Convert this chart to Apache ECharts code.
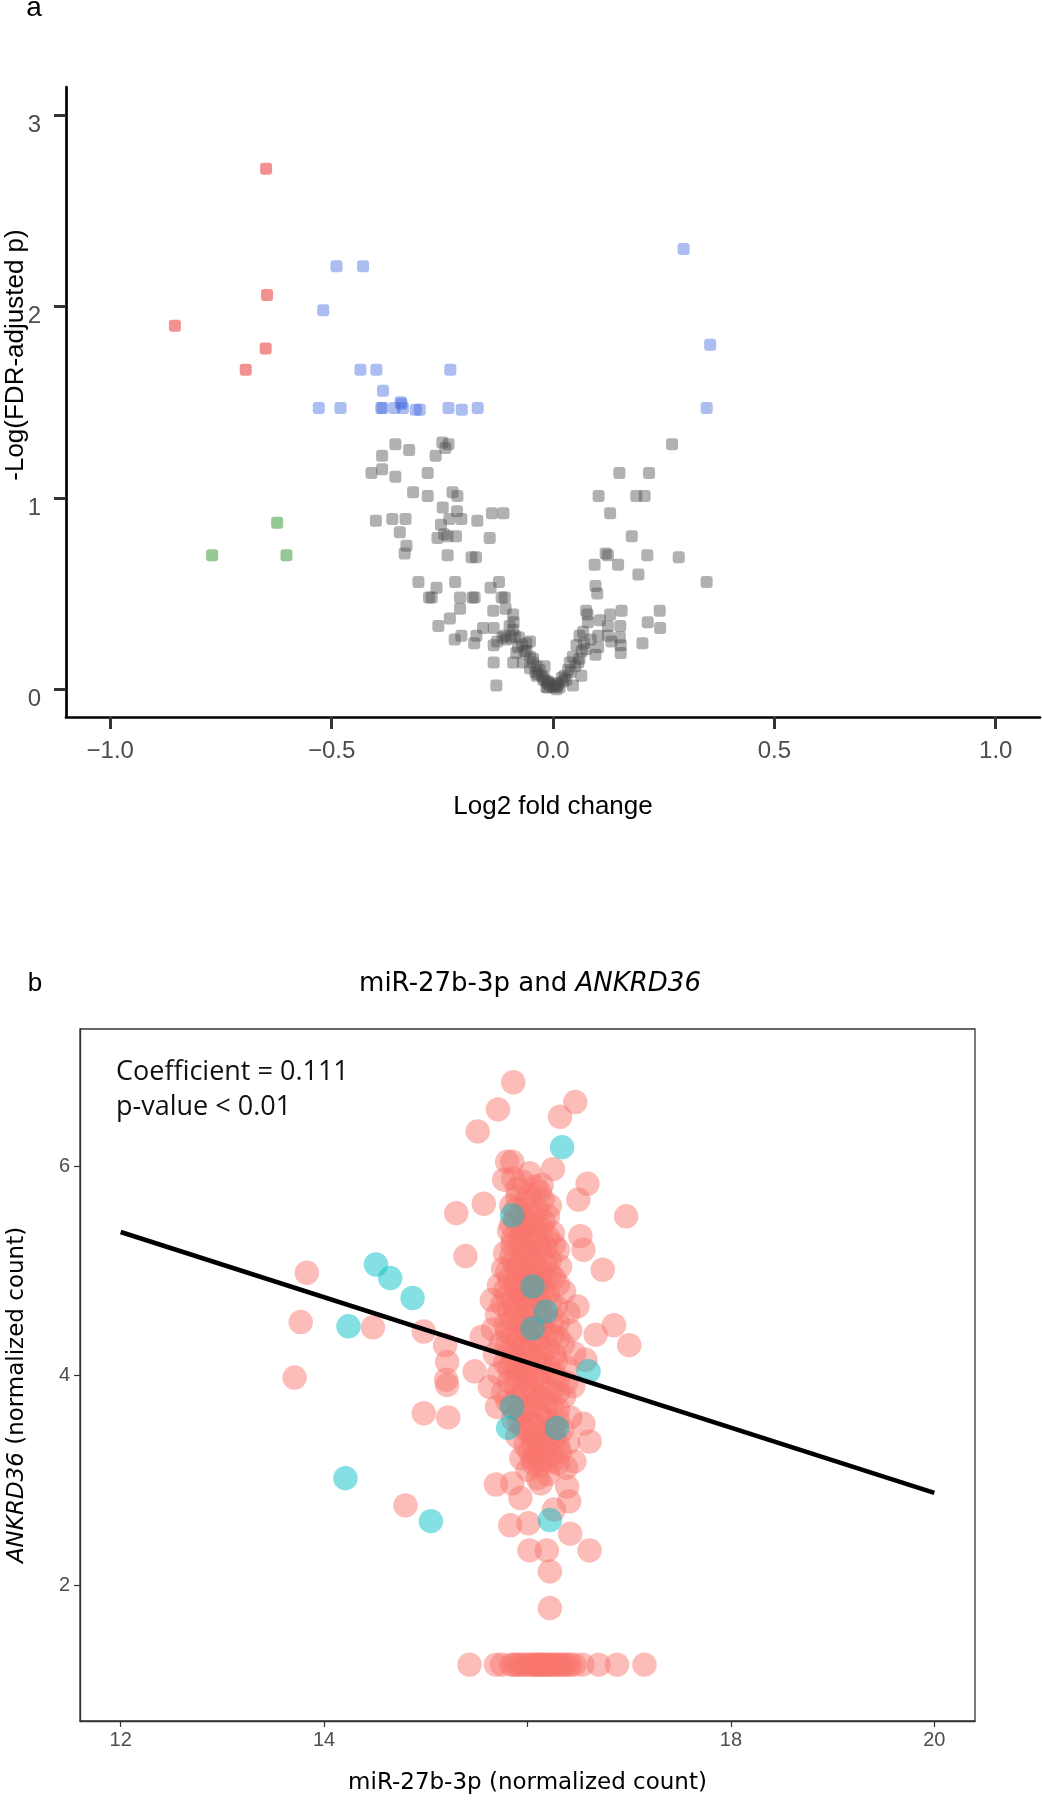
<!DOCTYPE html>
<html>
<head>
<meta charset="utf-8">
<script src="https://cdn.jsdelivr.net/npm/echarts@6/dist/echarts.min.js"></script>
<style>
html,body{margin:0;padding:0;background:#fff;}
#chart{width:1042px;height:1800px;}
</style>
</head>
<body>
<div id="chart"></div>
<script>
// ---------- Panel a: volcano plot (log2 fold change, -log FDR p) ----------
const volXTicks = [-1, -0.5, 0, 0.5, 1];
const volYTicks = [0, 1, 2, 3];

const redPoints = [[-0.648,2.72],[-0.646,2.06],[-0.854,1.90],[-0.649,1.78],[-0.694,1.67]];
const greenPoints = [[-0.623,0.87],[-0.770,0.70],[-0.602,0.70]];
const bluePoints = [
  [-0.489,2.21],[-0.429,2.21],[-0.519,1.98],[-0.435,1.67],[-0.399,1.67],[-0.232,1.67],
  [-0.384,1.56],[-0.529,1.47],[-0.480,1.47],[-0.388,1.47],[-0.385,1.47],[-0.358,1.47],
  [-0.342,1.49],[-0.344,1.50],[-0.339,1.47],[-0.310,1.46],[-0.301,1.46],[-0.236,1.47],
  [-0.206,1.46],[-0.170,1.47],[0.295,2.30],[0.355,1.80],[0.347,1.47]
];
const grayPoints = [
  [-0.356,1.28],[-0.325,1.25],[-0.250,1.29],[-0.236,1.28],[-0.243,1.26],[-0.265,1.22],[-0.386,1.22],
  [-0.386,1.15],[-0.410,1.13],[-0.356,1.11],[-0.283,1.13],[-0.316,1.03],[-0.283,1.01],[-0.227,1.03],
  [-0.216,1.01],[-0.249,0.95],[-0.217,0.93],[-0.400,0.88],[-0.363,0.89],[-0.333,0.89],[-0.234,0.89],
  [-0.207,0.89],[-0.171,0.88],[-0.138,0.92],[-0.112,0.92],[-0.253,0.86],[-0.346,0.82],[-0.261,0.79],
  [-0.246,0.81],[-0.238,0.80],[-0.219,0.80],[-0.143,0.79],[-0.331,0.75],[-0.335,0.71],[-0.238,0.70],
  [-0.184,0.69],[-0.174,0.69],[-0.304,0.56],[-0.263,0.53],[-0.221,0.56],[-0.141,0.53],[-0.122,0.56],
  [-0.280,0.48],[-0.274,0.48],[-0.210,0.48],[-0.182,0.48],[-0.177,0.48],[-0.116,0.48],[-0.109,0.48],
  [-0.210,0.42],[-0.135,0.41],[-0.107,0.42],[-0.233,0.37],[-0.090,0.39],[-0.089,0.35],[-0.259,0.33],
  [-0.158,0.32],[-0.134,0.32],[-0.098,0.33],[-0.222,0.26],[-0.207,0.28],[-0.173,0.28],[-0.178,0.24],
  [-0.134,0.23],[-0.126,0.25],[-0.114,0.27],[-0.109,0.28],[-0.086,0.28],[-0.077,0.27],[-0.060,0.24],
  [-0.052,0.25],[-0.134,0.14],[-0.090,0.14],[-0.083,0.19],[-0.068,0.14],[-0.052,0.17],[-0.037,0.12],
  [-0.030,0.10],[-0.128,0.02],[-0.037,0.07],[-0.022,0.05],[-0.007,0.02],[0.000,0.01],[0.008,0.00],
  [-0.079,0.22],[-0.064,0.20],[-0.045,0.14],[-0.034,0.08],[-0.015,0.04],[-0.052,0.11],[-0.090,0.31],
  [-0.105,0.26],[-0.012,0.01],[0.004,0.03],[-0.020,0.06],
  [-0.060,0.20],[-0.045,0.16],[-0.040,0.09],[-0.025,0.07],[-0.010,0.03],[0.010,0.02],[0.030,0.05],
  [0.040,0.09],[0.050,0.12],[0.060,0.16],[0.065,0.20],[0.070,0.24],[0.085,0.26],[-0.070,0.23],
  [-0.095,0.27],[0.020,0.06],[-0.015,0.01],[0.005,0.015],
  [0.269,1.28],[0.150,1.13],[0.217,1.13],[0.103,1.01],[0.188,1.01],[0.207,1.01],[0.129,0.92],
  [0.178,0.80],[0.119,0.71],[0.124,0.70],[0.094,0.65],[0.147,0.65],[0.213,0.70],[0.284,0.69],
  [0.193,0.60],[0.347,0.56],[0.096,0.54],[0.100,0.50],[0.075,0.41],[0.078,0.39],[0.129,0.39],
  [0.155,0.41],[0.241,0.41],[0.106,0.36],[0.079,0.35],[0.124,0.33],[0.152,0.33],[0.214,0.35],
  [0.242,0.32],[0.102,0.28],[0.124,0.28],[0.151,0.27],[0.153,0.23],[0.202,0.24],[0.153,0.19],
  [0.096,0.18],[0.060,0.28],[0.068,0.30],[0.053,0.23],[0.075,0.21],[0.102,0.22],[0.132,0.25],
  [0.045,0.17],[0.057,0.14],[0.038,0.14],[0.064,0.07],[0.034,0.10],[0.026,0.07],[0.045,0.02],
  [0.011,0.03],[0.015,0.01],[-0.011,0.04],[-0.019,0.12],[0.023,0.04]
];

// ---------- Panel b: miR-27b-3p vs ANKRD36 ----------
const corXTicks = [12, 14, 16, 18, 20];
const corXLabels = [12, 14, 18, 20];
const corYTicks = [2, 4, 6];
const fitLine = [[12, 5.37], [20, 2.88]];

const cyanPoints = [
  [16.34,6.18],[15.85,5.53],[14.51,5.06],[14.65,4.93],[14.87,4.74],[14.24,4.47],[16.05,4.85],
  [16.18,4.61],[16.05,4.45],[16.60,4.04],[15.81,3.50],[16.29,3.50],[14.21,3.02],[15.05,2.61],
  [16.22,2.62],[15.85,3.70]
];
const salmonPoints = [
  // scattered
  [15.86,6.80],[15.71,6.54],[16.47,6.61],[16.32,6.47],[15.51,6.33],[15.80,6.04],[15.85,6.04],
  [16.25,5.97],[16.02,5.93],[15.77,5.87],[16.59,5.83],[16.14,5.82],[16.50,5.68],[15.57,5.64],
  [15.30,5.55],[16.97,5.52],[16.52,5.33],[16.55,5.20],[15.39,5.14],[16.74,5.01],[13.83,4.98],
  [15.65,4.72],[16.49,4.66],[13.77,4.51],[14.48,4.46],[14.98,4.42],[16.85,4.48],[16.67,4.39],
  [15.55,4.37],[15.19,4.29],[17.00,4.29],[16.57,4.15],[15.21,4.13],[15.48,4.04],[13.71,3.98],
  [15.20,3.96],[15.21,3.91],[15.63,3.89],[14.98,3.64],[15.22,3.60],[15.70,3.70],[16.55,3.54],
  [16.61,3.37],[16.46,3.18],[16.05,3.21],[14.80,2.76],[15.69,2.96],[15.85,2.97],[15.93,2.83],
  [16.13,2.97],[16.39,2.94],[16.41,2.80],[15.83,2.57],[16.01,2.59],[16.26,2.72],[16.42,2.49],
  [16.02,2.33],[16.19,2.33],[16.61,2.33],[16.22,2.13],[16.22,1.78],
  // bottom row
  [15.43,1.24],[15.69,1.24],[15.75,1.24],[15.87,1.24],[15.93,1.24],[15.96,1.24],[16.00,1.24],
  [16.06,1.24],[16.10,1.24],[16.14,1.24],[16.18,1.24],[16.23,1.24],[16.28,1.24],[16.31,1.24],
  [16.36,1.24],[16.39,1.24],[16.46,1.24],[16.54,1.24],[16.70,1.24],[16.88,1.24],[17.15,1.24],
  [15.90,1.24],[16.03,1.24],[16.08,1.24],[16.12,1.24],[16.16,1.24],[16.20,1.24],[16.25,1.24],
  [16.33,1.24],[16.42,1.24],[15.84,1.24],
  // dense core
  [15.86,5.88],[15.95,5.85],[16.08,5.80],[16.02,5.72],[15.90,5.70],[16.15,5.68],[15.84,5.62],
  [16.00,5.60],[16.10,5.58],[15.93,5.55],[16.20,5.52],[15.88,5.48],[16.05,5.45],[15.97,5.42],
  [16.14,5.40],[15.82,5.38],[16.25,5.36],[16.02,5.33],[15.92,5.30],[16.10,5.28],[15.85,5.25],
  [16.18,5.22],[16.00,5.20],[16.30,5.20],[15.78,5.17],
  [15.95,5.15],[16.08,5.12],[16.22,5.10],[15.86,5.08],[16.00,5.05],[16.32,5.04],[15.76,5.02],
  [16.13,5.00],[15.92,4.98],[16.04,4.95],[16.26,4.93],[15.82,4.92],[15.98,4.90],[16.16,4.88],
  [15.72,4.86],[16.08,4.84],[15.90,4.82],[16.36,4.80],[16.20,4.78],[15.80,4.76],[16.02,4.75],
  [15.95,4.72],[16.12,4.70],[15.75,4.68],[16.28,4.66],[15.88,4.64],[16.06,4.62],[16.40,4.60],
  [15.70,4.58],[15.98,4.57],[16.18,4.55],[15.85,4.53],[16.30,4.51],[16.05,4.49],[15.92,4.47],
  [16.14,4.45],[15.66,4.44],[16.42,4.43],[15.80,4.41],[16.00,4.40],[16.24,4.38],[15.90,4.35],
  [16.10,4.33],[15.74,4.31],[16.35,4.30],[15.96,4.28],[16.20,4.26],[15.84,4.24],[16.04,4.22],
  [16.46,4.21],[15.68,4.20],[16.14,4.18],[15.92,4.16],[16.28,4.14],[15.78,4.12],[16.02,4.10],
  [16.38,4.08],[15.88,4.06],[16.18,4.04],[15.72,4.02],[16.08,4.00],
  [15.95,3.98],[16.30,3.96],[15.82,3.94],[16.14,3.92],[16.45,3.90],[15.98,3.88],[16.24,3.86],
  [15.76,3.84],[16.06,3.82],[16.36,3.80],[15.90,3.78],[16.18,3.76],[15.84,3.72],[16.02,3.70],
  [16.30,3.68],[15.94,3.65],[16.12,3.62],[16.42,3.60],[15.86,3.58],[16.22,3.56],[16.04,3.54],
  [15.96,3.50],[16.34,3.48],[16.14,3.45],[15.90,3.42],[16.26,3.40],
  [16.05,3.38],[16.40,3.36],[15.98,3.33],[16.18,3.30],[16.32,3.27],[16.08,3.24],[15.94,3.21],
  [16.24,3.18],[16.12,3.14],[16.38,3.12],[16.00,3.10],[16.20,3.06],[16.10,3.02],
  [15.90,5.78],[16.12,5.75],[15.98,5.66],[16.22,5.62],[15.88,5.58],[16.06,5.52],[15.96,5.50],
  [16.16,5.47],[15.84,5.44],[16.08,5.38],[15.94,5.36],[16.20,5.32],[15.86,5.31],[16.04,5.26],
  [16.26,5.25],[15.94,5.22],[16.12,5.18],[15.84,5.14],[16.02,5.12],[16.18,5.06],[15.90,5.03],
  [16.08,5.01],[15.80,4.99],[16.22,4.97],[15.98,4.94],[16.12,4.91],[15.88,4.88],[16.30,4.87],
  [16.02,4.85],[15.78,4.82],[16.14,4.80],[15.94,4.78],[16.08,4.76],[15.86,4.71],[16.22,4.69],
  [16.00,4.67],[15.82,4.60],[16.12,4.58],[15.94,4.54],[16.24,4.50],[15.78,4.48],[16.08,4.46],
  [15.98,4.43],[16.18,4.41],[15.86,4.38],[16.30,4.36],[16.04,4.34],[15.80,4.28],[16.12,4.27],
  [15.98,4.23],[16.26,4.20],[15.86,4.18],[16.08,4.14],[15.96,4.11],[16.20,4.09],[15.82,4.07],
  [16.00,4.03],[16.26,4.01],[15.90,3.99],[16.10,3.95],[16.38,3.93],[15.88,3.90],[16.04,3.87],
  [16.30,3.84],[15.96,3.82],[16.12,3.79],[15.80,3.76],[16.24,3.73],[16.08,3.71],[15.92,3.68],
  [16.18,3.66],[16.00,3.62],[16.30,3.58],[15.92,3.55],[16.10,3.52],[16.26,3.50],[16.02,3.46],
  [16.20,3.42],[16.08,3.40],[16.30,3.34],[16.12,3.32],[16.02,3.28],[16.24,3.25],[16.16,3.20],
  [16.30,3.16],[16.06,3.16]
];

const SANS = '"Liberation Sans", Arial, sans-serif';
const WIDE = '"DejaVu Sans", sans-serif';

const chart = echarts.init(document.getElementById('chart'), null, {renderer: 'canvas'});

const fmtVol = v => (v < 0 ? '\u2212' : '') + Math.abs(v).toFixed(1);

chart.setOption({
  animation: false,
  backgroundColor: '#fff',
  grid: [
    {left: 66, top: 87, width: 974, height: 630},
    {left: 80, top: 1029, width: 895, height: 692, show: true, borderColor: '#333', borderWidth: 1.3}
  ],
  xAxis: [
    {
      type: 'value', gridIndex: 0, min: -1.1, max: 1.1,
      axisLine: {onZero: false, lineStyle: {color: '#000', width: 2.7}},
      axisTick: {customValues: volXTicks, length: 12, lineStyle: {color: '#333', width: 3}},
      axisLabel: {customValues: volXTicks, formatter: fmtVol, fontSize: 24, color: '#4d4d4d', margin: 22, fontFamily: SANS},
      splitLine: {show: false},
      name: 'Log2 fold change', nameLocation: 'middle', nameGap: 77,
      nameTextStyle: {fontSize: 26, color: '#000', fontFamily: SANS}
    },
    {
      type: 'value', gridIndex: 1, min: 11.6, max: 20.4,
      axisLine: {onZero: false, lineStyle: {color: '#333', width: 1.3}},
      axisTick: {customValues: corXTicks, length: 6, lineStyle: {color: '#333', width: 1.2}},
      axisLabel: {customValues: corXLabels, fontSize: 20, color: '#4d4d4d', margin: 9, fontFamily: SANS},
      splitLine: {show: false},
      name: 'miR-27b-3p (normalized count)', nameLocation: 'middle', nameGap: 51,
      nameTextStyle: {fontSize: 23, color: '#000', fontFamily: WIDE}
    }
  ],
  yAxis: [
    {
      type: 'value', gridIndex: 0, min: -0.145, max: 3.147,
      axisLine: {onZero: false, lineStyle: {color: '#000', width: 2.7}},
      axisTick: {customValues: volYTicks, length: 12, lineStyle: {color: '#333', width: 3}},
      axisLabel: {customValues: volYTicks, fontSize: 24, color: '#4d4d4d', margin: 25, verticalAlign: 'top', lineHeight: 20, fontFamily: SANS},
      splitLine: {show: false}
    },
    {
      type: 'value', gridIndex: 1, min: 0.702, max: 7.308,
      axisLine: {onZero: false, lineStyle: {color: '#333', width: 1.3}},
      axisTick: {customValues: corYTicks, length: 6, lineStyle: {color: '#333', width: 1.2}},
      axisLabel: {customValues: corYTicks, fontSize: 20, color: '#4d4d4d', margin: 10, fontFamily: SANS},
      splitLine: {show: false}
    }
  ],
  series: [
    {type: 'scatter', xAxisIndex: 0, yAxisIndex: 0, data: grayPoints, symbol: 'roundRect', symbolSize: 12,
     itemStyle: {color: 'rgba(77,77,77,0.55)'}, silent: true},
    {type: 'scatter', xAxisIndex: 0, yAxisIndex: 0, data: bluePoints, symbol: 'roundRect', symbolSize: 12,
     itemStyle: {color: 'rgba(65,105,225,0.55)'}, silent: true},
    {type: 'scatter', xAxisIndex: 0, yAxisIndex: 0, data: redPoints, symbol: 'roundRect', symbolSize: 12,
     itemStyle: {color: 'rgba(230,30,30,0.62)'}, silent: true},
    {type: 'scatter', xAxisIndex: 0, yAxisIndex: 0, data: greenPoints, symbol: 'roundRect', symbolSize: 12,
     itemStyle: {color: 'rgba(34,139,34,0.6)'}, silent: true},
    {type: 'scatter', xAxisIndex: 1, yAxisIndex: 1, data: salmonPoints, symbol: 'circle', symbolSize: 24.5,
     itemStyle: {color: 'rgba(248,118,109,0.6)'}, silent: true},
    {type: 'scatter', xAxisIndex: 1, yAxisIndex: 1, data: cyanPoints, symbol: 'circle', symbolSize: 24.5,
     itemStyle: {color: 'rgba(0,191,196,0.6)'}, silent: true},
    {type: 'line', xAxisIndex: 1, yAxisIndex: 1, data: fitLine, showSymbol: false, symbol: 'none',
     lineStyle: {color: '#000', width: 4.5}, z: 10, silent: true}
  ],
  graphic: [
    {type: 'text', x: 34, y: 8, style: {text: 'a', fontSize: 28, fontFamily: SANS, fill: '#000', align: 'center', verticalAlign: 'middle'}},
    {type: 'text', x: 16, y: 355, rotation: Math.PI / 2,
     style: {text: '-Log(FDR-adjusted p)', fontSize: 26, fontFamily: SANS, fill: '#000', align: 'center', verticalAlign: 'middle'}},
    {type: 'text', x: 35, y: 984, style: {text: 'b', fontSize: 26, fontFamily: SANS, fill: '#000', align: 'center', verticalAlign: 'middle'}},
    {type: 'text', x: 530, y: 984,
     style: {text: '{n|miR-27b-3p and }{i|ANKRD36}', align: 'center', verticalAlign: 'middle', fill: '#000',
       rich: {n: {fontSize: 26, fontFamily: WIDE, fill: '#000'},
              i: {fontSize: 26, fontFamily: WIDE, fontStyle: 'italic', fill: '#000'}}}},
    {type: 'text', x: 116, y: 1072, style: {text: 'Coefficient = 0.111', fontSize: 27, fontFamily: '"Open Sans", sans-serif', fill: '#111', align: 'left', verticalAlign: 'middle'}},
    {type: 'text', x: 116, y: 1107, style: {text: 'p-value < 0.01', fontSize: 27, fontFamily: '"Open Sans", sans-serif', fill: '#111', align: 'left', verticalAlign: 'middle'}},
    {type: 'text', x: 17, y: 1395, rotation: Math.PI / 2,
     style: {text: '{i|ANKRD36}{n| (normalized count)}', align: 'center', verticalAlign: 'middle', fill: '#000',
       rich: {n: {fontSize: 23, fontFamily: WIDE, fill: '#000'},
              i: {fontSize: 23, fontFamily: WIDE, fontStyle: 'italic', fill: '#000'}}}}
  ]
});
</script>
</body>
</html>
